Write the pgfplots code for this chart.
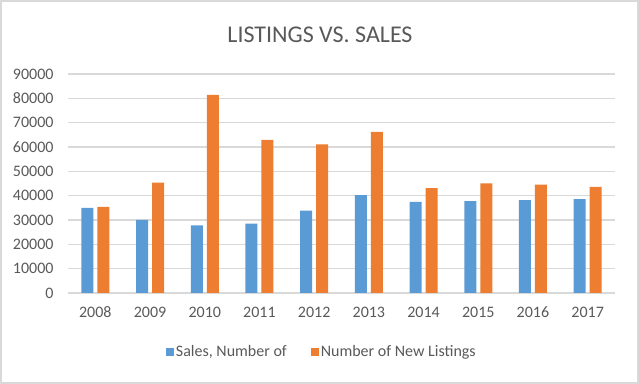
\documentclass[border=0pt]{standalone}
\usepackage{pgfplots}
\pgfplotsset{compat=1.18}
\usepackage{fontspec}
\setmainfont{Carlito}
\definecolor{cblue}{HTML}{5B9BD5}
\definecolor{corange}{HTML}{ED7D31}
\definecolor{ctext}{HTML}{595959}
\definecolor{cgrid}{HTML}{D9D9D9}
\begin{document}
\begin{tikzpicture}
\useasboundingbox (0,0) rectangle (639bp,384bp);
\draw[cgrid, line width=1.5bp] (1bp,1bp) rectangle (638bp,383bp);
\node[text=ctext, font=\fontsize{24bp}{28bp}\selectfont] at (320bp,349bp) {LISTINGS VS. SALES};
\begin{axis}[
  at={(68bp,91bp)}, anchor=south west,
  scale only axis, width=547bp, height=219bp,
  ybar=4bp, bar width=12bp,
  xmin=-0.5, xmax=9.5, ymin=0, ymax=90000,
  xtick={0,...,9},
  xticklabels={2008,2009,2010,2011,2012,2013,2014,2015,2016,2017},
  ytick={0,10000,...,90000},
  scaled y ticks=false,
  yticklabel style={/pgf/number format/fixed, /pgf/number format/1000 sep={}},
  /pgf/number format/assume math mode=true,
  ymajorgrids, grid style={cgrid, line width=1.2bp},
  axis line style={draw=none},
  major tick length=0pt,
  tick label style={text=ctext, font=\fontsize{16bp}{19bp}\selectfont},
  xticklabel style={anchor=base, yshift=-25bp},
  yticklabel style={xshift=-11bp},
  legend style={at={(0.464,-0.27)}, anchor=center, draw=none, fill=none,
    font=\fontsize{16bp}{19bp}\selectfont, text=ctext, legend columns=2,
    /tikz/every even column/.append style={column sep=22bp}},
  legend image code/.code={\fill[#1] (0bp,-4bp) rectangle (8bp,4bp);},
]
\addplot[fill=cblue, draw=none] coordinates {
(0,35000) (1,30100) (2,27800) (3,28500) (4,33900) (5,40200) (6,37500) (7,37800) (8,38200) (9,38600)};
\addlegendentry{Sales, Number of}
\addplot[fill=corange, draw=none] coordinates {
(0,35400) (1,45400) (2,81400) (3,62900) (4,61100) (5,66200) (6,43100) (7,45100) (8,44500) (9,43600)};
\addlegendentry{Number of New Listings}
\end{axis}
\end{tikzpicture}
\end{document}
